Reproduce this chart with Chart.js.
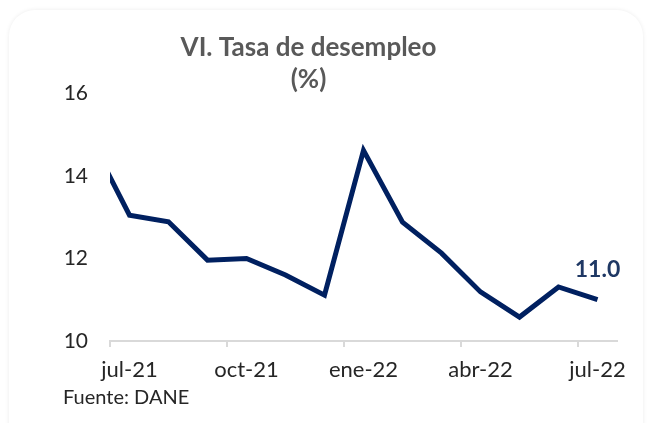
<!DOCTYPE html>
<html>
<head>
<meta charset="utf-8">
<script src="https://cdn.jsdelivr.net/npm/chart.js@4.4.0/dist/chart.umd.min.js"></script>
<style>
  html, body { margin: 0; padding: 0; background: #fff; }
  #wrap { position: relative; width: 647px; height: 423px; overflow: hidden; }
  #card { position: absolute; left: 9px; top: 10px; width: 634px; height: 440px;
          border-radius: 26px; background: #fff; box-shadow: 0 0 4px rgba(0,0,0,0.08); }
  #canvas1 { position: absolute; left: 0; top: 0; }
</style>
</head>
<body>
<div id="wrap">
  <div id="card"></div>
  <canvas id="canvas1" width="647" height="423"></canvas>
</div>
<script>
// monthly unemployment rate (%), jun-21 is cut off at the left edge in the original
const meses = ['jun-21', 'jul-21', 'ago-21', 'sep-21', 'oct-21', 'nov-21', 'dic-21',
               'ene-22', 'feb-22', 'mar-22', 'abr-22', 'may-22', 'jun-22', 'jul-22']
const tasa = [14.9, 13.05, 12.89, 11.96, 12.0, 11.6, 11.11,
              14.62, 12.88, 12.13, 11.19, 10.58, 11.31, 11.0]
const yTicks = [10, 12, 14, 16]
const xTickCats = [0.5, 3.5, 6.5, 9.5, 12.5]  // category boundaries with a tick mark

const puntos = tasa.map((v, i) => ({ x: i, y: v }))

const ctx = document.getElementById('canvas1').getContext('2d')

const extras = {
  id: 'extras',
  afterDatasetsDraw(chart) {
    const c = chart.ctx
    const meta = chart.getDatasetMeta(0)
    const last = meta.data[meta.data.length - 1]
    c.save()
    c.font = 'bold 23px Lato'
    c.fillStyle = '#1f3864'
    c.textAlign = 'center'
    c.textBaseline = 'middle'
    c.fillText(tasa[tasa.length - 1].toFixed(1), last.x, last.y - 30)
    c.font = '20px Lato'
    c.fillStyle = '#262626'
    c.textAlign = 'left'
    c.fillText('Fuente: DANE', 63, 398)
    c.restore()
  }
}

const myChart = new Chart(ctx, {
  type: 'line',
  data: {
    datasets: [{
      data: puntos,
      borderColor: '#002060',
      borderWidth: 5,
      pointRadius: 0,
      tension: 0,
      clip: { left: 0, top: 5, right: 5, bottom: 5 }
    }]
  },
  options: {
    responsive: false,
    animation: false,
    layout: { padding: { left: 0, right: 30, top: 0, bottom: 0 } },
    plugins: {
      legend: { display: false },
      tooltip: { enabled: false },
      title: {
        display: true,
        text: ['VI. Tasa de desempleo', '(%)'],
        color: '#595959',
        font: { family: 'Lato', size: 26, weight: 'bold', lineHeight: 1.22 },
        padding: { top: 32, bottom: -2 }
      }
    },
    scales: {
      x: {
        type: 'linear',
        min: 0.5,
        max: 13.5,
        afterBuildTicks: s => { s.ticks = xTickCats.map(v => ({ value: v })) },
        afterFit: s => { s.height = 82 },
        border: { display: true, color: '#d9d9d9', width: 2 },
        grid: { drawOnChartArea: false, drawTicks: true, tickLength: 6, color: '#d9d9d9', lineWidth: 2 },
        ticks: {
          autoSkip: false,
          maxRotation: 0,
          labelOffset: 19.5,
          padding: 10,
          color: '#262626',
          font: { family: 'Lato', size: 22 },
          callback: v => meses[Math.round(v + 0.5)]
        }
      },
      y: {
        min: 10,
        max: 16,
        afterBuildTicks: s => { s.ticks = yTicks.map(v => ({ value: v })) },
        afterFit: s => { s.width = 110 },
        border: { display: false },
        grid: { display: false, drawTicks: false },
        ticks: {
          padding: 22,
          color: '#262626',
          font: { family: 'Lato', size: 21 }
        }
      }
    }
  },
  plugins: [extras]
})
</script>
</body>
</html>
